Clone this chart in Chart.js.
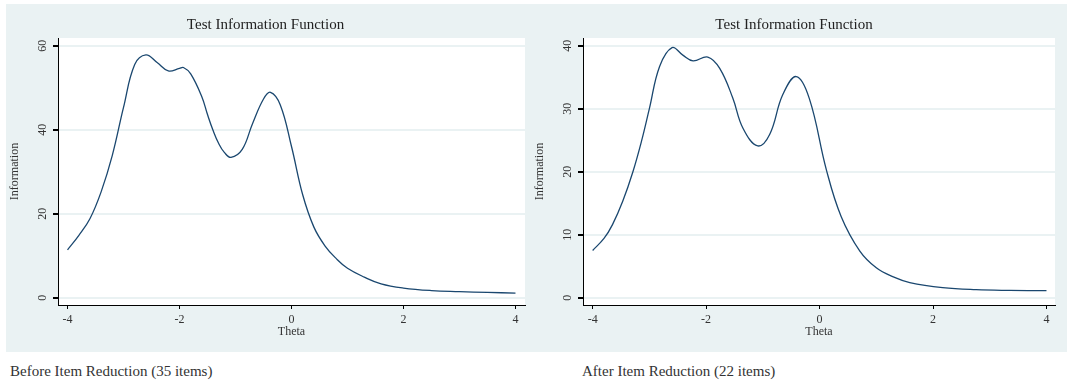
<!DOCTYPE html>
<html>
<head>
<meta charset="utf-8">
<script src="https://cdn.jsdelivr.net/npm/chart.js@4.4.0/dist/chart.umd.min.js"></script>
<style>
body{margin:0;width:1067px;height:382px;background:#fff;position:relative;overflow:hidden;font-family:"Liberation Serif",serif}
#panel{position:absolute;left:6px;top:4px;width:1061px;height:348px;background:#eaf2f3}
.box{position:absolute;top:4px;height:348px}
.cap{position:absolute;top:363px;font-size:15px;line-height:17px;color:#333}
</style>
</head>
<body>
<div id="panel"></div>
<div class="box" style="left:6px;width:527px"><canvas id="before"></canvas></div>
<div class="box" style="left:533px;width:534px"><canvas id="after"></canvas></div>
<div class="cap" style="left:10px">Before Item Reduction (35 items)</div>
<div class="cap" style="left:582px">After Item Reduction (22 items)</div>
<script>
// values
var thetaBefore = [-4.0,-3.8,-3.6,-3.4,-3.2,-3.0,-2.8,-2.6,-2.4,-2.2,-2.0,-1.93,-1.8,-1.6,-1.5,-1.4,-1.3,-1.2,-1.08,-0.88,-0.7,-0.5,-0.375,-0.2,0.0,0.2,0.4,0.6,0.8,1.0,1.3,1.6,2.0,2.5,3.0,3.5,4.0];
var infoBefore = [11.4,14.8,18.8,25.2,33.9,45.3,55.5,57.8,56.0,54.0,54.6,54.8,53.3,47.8,43.6,39.8,36.7,34.6,33.4,35.3,41.3,47.3,48.9,45.9,36.0,24.5,16.8,12.3,9.3,7.0,4.9,3.3,2.3,1.7,1.45,1.25,1.1];

var thetaAfter = [-4.0,-3.8,-3.65,-3.47,-3.29,-3.14,-3.0,-2.82,-2.6,-2.41,-2.23,-1.97,-1.76,-1.53,-1.35,-1.09,-0.88,-0.65,-0.41,-0.18,0.12,0.38,0.71,1.0,1.3,1.59,2.17,2.76,3.35,4.0];
var infoAfter = [7.5,9.4,11.6,15.3,20.0,24.8,30.0,36.7,39.7,38.5,37.6,38.2,36.4,31.7,26.9,24.1,25.9,32.2,35.1,31.6,20.3,12.9,7.4,4.75,3.3,2.4,1.6,1.27,1.16,1.12];

var xTicks = [-4,-2,0,2,4];
var yTicksBefore = [0,20,40,60];
var yTicksAfter = [0,10,20,30,40];

var serif = '"Liberation Serif", serif';
var navy = '#1a476f';
var bluish = '#eaf2f3';

var plotBg = {
  id: 'plotBg',
  beforeDraw: function(c){
    var a = c.chartArea;
    c.ctx.save();
    c.ctx.fillStyle = '#fff';
    c.ctx.fillRect(a.left, a.top, a.right - a.left, a.bottom - a.top);
    c.ctx.restore();
  }
};

function makeChart(id, theta, info, yTicks, yMin, yMax, xMin, xMax, yWidth, padRight, yTitlePad){
  var pts = theta.map(function(t, i){ return {x: t, y: info[i]}; });
  return new Chart(document.getElementById(id), {
    type: 'line',
    data: {
      datasets: [{
        data: pts,
        borderColor: navy,
        borderWidth: 1.3,
        pointRadius: 0,
        fill: false,
        tension: 0.4
      }]
    },
    plugins: [plotBg],
    options: {
      responsive: true,
      maintainAspectRatio: false,
      animation: false,
      devicePixelRatio: 1,
      layout: {padding: {left: 0, right: padRight, top: 0, bottom: 0}, autoPadding: false},
      plugins: {
        legend: {display: false},
        tooltip: {enabled: false},
        title: {
          display: true,
          text: 'Test Information Function',
          color: '#222',
          font: {family: serif, size: 15, weight: 'normal'},
          padding: {top: 12, bottom: 4}
        }
      },
      scales: {
        x: {
          type: 'linear',
          min: xMin,
          max: xMax,
          afterBuildTicks: function(s){ s.ticks = xTicks.map(function(v){ return {value: v}; }); },
          afterFit: function(s){ s.height = 47; },
          grid: {drawOnChartArea: false, tickColor: '#000', tickLength: 4},
          border: {color: '#000', width: 1},
          ticks: {color: '#333', font: {family: serif, size: 12}, padding: 4, maxRotation: 0},
          title: {display: true, text: 'Theta', color: '#333', font: {family: serif, size: 12}, padding: {top: 0, bottom: 12.5}}
        },
        y: {
          min: yMin,
          max: yMax,
          afterBuildTicks: function(s){ s.ticks = yTicks.map(function(v){ return {value: v}; }); },
          afterFit: function(s){ s.width = yWidth; },
          grid: {color: bluish, lineWidth: 2, tickColor: '#000', tickLength: 5},
          border: {color: '#000', width: 1},
          ticks: {color: '#333', font: {family: serif, size: 12}, padding: 4, minRotation: 90, maxRotation: 90, crossAlign: 'center'},
          title: {display: true, text: 'Information', color: '#333', font: {family: serif, size: 12}, padding: {top: yTitlePad, bottom: 0}}
        }
      }
    }
  });
}

makeChart('before', thetaBefore, infoBefore, yTicksBefore, -1.74, 61.83, -4.17, 4.17, 52, 8, 2);
makeChart('after', thetaAfter, infoAfter, yTicksAfter, -1.16, 41.22, -4.17, 4.15, 50, 12, 0);
</script>
</body>
</html>
